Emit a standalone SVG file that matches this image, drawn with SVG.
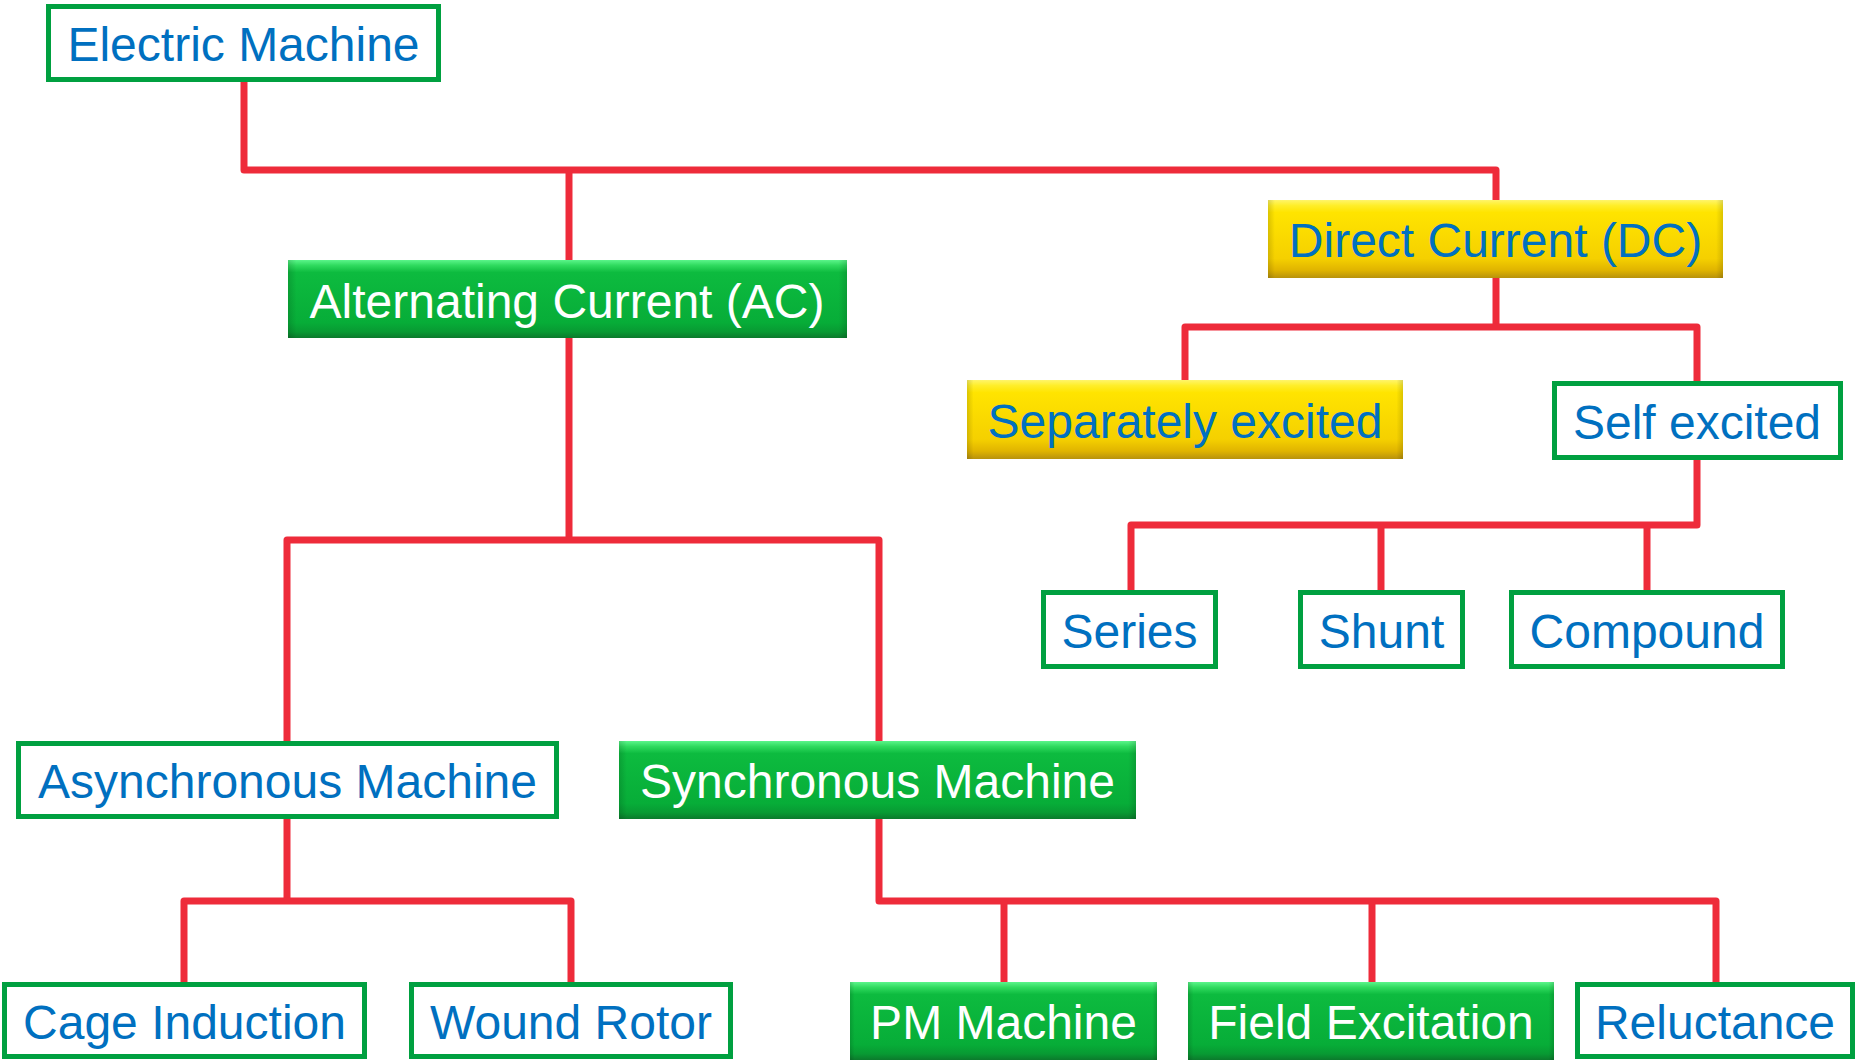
<svg xmlns="http://www.w3.org/2000/svg" width="1857" height="1061" viewBox="0 0 1857 1061">
<defs>
<linearGradient id="gGreen" x1="0" y1="0" x2="0" y2="1">
<stop offset="0" stop-color="#5BF58A"/>
<stop offset="0.07" stop-color="#2FDA5E"/>
<stop offset="0.16" stop-color="#0DBB3F"/>
<stop offset="0.8" stop-color="#07AD38"/>
<stop offset="0.92" stop-color="#089A33"/>
<stop offset="1" stop-color="#0B7A2C"/>
</linearGradient>
<linearGradient id="gYellow" x1="0" y1="0" x2="0" y2="1">
<stop offset="0" stop-color="#FFF56A"/>
<stop offset="0.07" stop-color="#FFEE2A"/>
<stop offset="0.16" stop-color="#FFE400"/>
<stop offset="0.75" stop-color="#F5D000"/>
<stop offset="0.9" stop-color="#E0B400"/>
<stop offset="1" stop-color="#B8920C"/>
</linearGradient>
<linearGradient id="gSide" x1="0" y1="0" x2="1" y2="0">
<stop offset="0" stop-color="#000" stop-opacity="0.14"/>
<stop offset="0.015" stop-color="#000" stop-opacity="0"/>
<stop offset="0.985" stop-color="#000" stop-opacity="0"/>
<stop offset="1" stop-color="#000" stop-opacity="0.14"/>
</linearGradient>
</defs>
<style>
.out{fill:#FFFFFF;stroke:#00A040;stroke-width:5;}
.grn{fill:url(#gGreen);}
.yel{fill:url(#gYellow);}
.side{fill:url(#gSide);}
text{font-family:"Liberation Sans",Arial,sans-serif;font-size:48px;text-anchor:middle;}
.tb{fill:#0070C0;}
.tw{fill:#FFFFFF;}
.con{fill:none;stroke:#EE2B3A;stroke-width:7;stroke-linejoin:round;stroke-linecap:butt;}
</style>

<g id="connectors">
<polyline class="con" points="244,82 244,170 1496,170 1496,200"/>
<line class="con" x1="569" y1="170" x2="569" y2="260"/>
<line class="con" x1="569" y1="338" x2="569" y2="540"/>
<polyline class="con" points="287,741 287,540 879,540 879,741"/>
<line class="con" x1="1496" y1="278" x2="1496" y2="327"/>
<polyline class="con" points="1185,380 1185,327 1697,327 1697,381"/>
<polyline class="con" points="1697,460 1697,525 1131,525 1131,590"/>
<line class="con" x1="1381" y1="525" x2="1381" y2="590"/>
<line class="con" x1="1647" y1="525" x2="1647" y2="590"/>
<line class="con" x1="287" y1="819" x2="287" y2="901"/>
<polyline class="con" points="184,982 184,901 571,901 571,982"/>
<polyline class="con" points="879,819 879,901 1716,901 1716,982"/>
<line class="con" x1="1004" y1="901" x2="1004" y2="982"/>
<line class="con" x1="1372" y1="901" x2="1372" y2="982"/>
</g>

<g id="electric-machine">
<rect class="out" x="48.5" y="6.5" width="390" height="73"/>
<text class="tb" x="243.5" y="61">Electric Machine</text>
</g>

<g id="ac">
<rect class="grn" x="288" y="260" width="559" height="78"/>
<rect class="side" x="288" y="260" width="559" height="78"/>
<text class="tw" x="567" y="318">Alternating Current (AC)</text>
</g>

<g id="dc">
<rect class="yel" x="1268" y="200" width="455" height="78"/>
<rect class="side" x="1268" y="200" width="455" height="78"/>
<text class="tb" x="1495.5" y="257">Direct Current (DC)</text>
</g>

<g id="separately-excited">
<rect class="yel" x="967" y="380" width="436" height="79"/>
<rect class="side" x="967" y="380" width="436" height="79"/>
<text class="tb" x="1185" y="438">Separately excited</text>
</g>

<g id="self-excited">
<rect class="out" x="1554.5" y="383.5" width="286" height="74"/>
<text class="tb" x="1697" y="439">Self excited</text>
</g>

<g id="series">
<rect class="out" x="1043.5" y="592.5" width="172" height="74"/>
<text class="tb" x="1129.5" y="648">Series</text>
</g>

<g id="shunt">
<rect class="out" x="1300.5" y="592.5" width="162" height="74"/>
<text class="tb" x="1381.5" y="648">Shunt</text>
</g>

<g id="compound">
<rect class="out" x="1511.5" y="592.5" width="271" height="74"/>
<text class="tb" x="1647" y="648">Compound</text>
</g>

<g id="asynchronous-machine">
<rect class="out" x="18.5" y="743.5" width="538" height="73"/>
<text class="tb" x="287.5" y="798">Asynchronous Machine</text>
</g>

<g id="synchronous-machine">
<rect class="grn" x="619" y="741" width="517" height="78"/>
<rect class="side" x="619" y="741" width="517" height="78"/>
<text class="tw" x="877.5" y="798">Synchronous Machine</text>
</g>

<g id="cage-induction">
<rect class="out" x="4.5" y="984.5" width="360" height="72"/>
<text class="tb" x="184.5" y="1039">Cage Induction</text>
</g>

<g id="wound-rotor">
<rect class="out" x="411.5" y="984.5" width="319" height="72"/>
<text class="tb" x="571" y="1039">Wound Rotor</text>
</g>

<g id="pm-machine">
<rect class="grn" x="850" y="982" width="307" height="78"/>
<rect class="side" x="850" y="982" width="307" height="78"/>
<text class="tw" x="1003.5" y="1039">PM Machine</text>
</g>

<g id="field-excitation">
<rect class="grn" x="1188" y="982" width="366" height="78"/>
<rect class="side" x="1188" y="982" width="366" height="78"/>
<text class="tw" x="1371" y="1039">Field Excitation</text>
</g>

<g id="reluctance">
<rect class="out" x="1577.5" y="984.5" width="275" height="72"/>
<text class="tb" x="1715" y="1039">Reluctance</text>
</g>
</svg>
